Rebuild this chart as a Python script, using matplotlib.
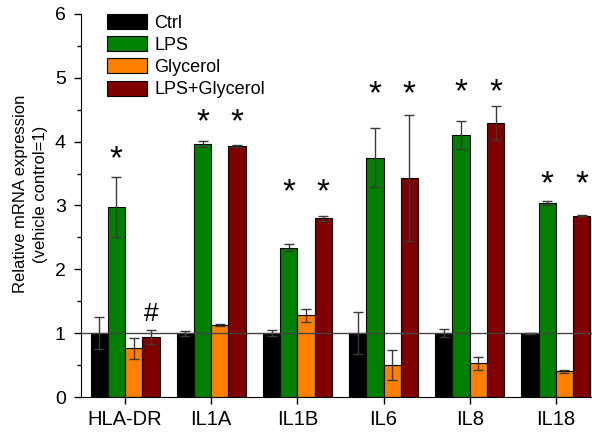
import numpy as np
import matplotlib
matplotlib.use('Agg')
import matplotlib.pyplot as plt
from matplotlib.ticker import MultipleLocator

plt.rcParams['font.family'] = ['Liberation Sans', 'DejaVu Sans']

genes = ['HLA-DR', 'IL1A', 'IL1B', 'IL6', 'IL8', 'IL18']
groups = ['Ctrl', 'LPS', 'Glycerol', 'LPS+Glycerol']
colors = ['#000000', '#008000', '#FF8000', '#800000']

ctrl = [1.0, 1.0, 1.0, 1.0, 1.0, 1.0]
ctrl_err = [0.25, 0.04, 0.05, 0.33, 0.06, 0.01]
lps = [2.98, 3.96, 2.34, 3.75, 4.11, 3.04]
lps_err = [0.47, 0.05, 0.05, 0.46, 0.22, 0.03]
gly = [0.76, 1.13, 1.28, 0.50, 0.53, 0.40]
gly_err = [0.16, 0.01, 0.10, 0.23, 0.10, 0.02]
lpsgly = [0.94, 3.93, 2.80, 3.43, 4.29, 2.84]
lpsgly_err = [0.11, 0.02, 0.04, 0.99, 0.27, 0.01]

# significance marks: asterisk heights for LPS and LPS+Glycerol bars
star_lps = [3.72, 4.30, 3.20, 4.74, 4.77, 3.33]
star_lpsgly = [None, 4.30, 3.20, 4.74, 4.77, 3.33]
hash_y = 1.30

values = [ctrl, lps, gly, lpsgly]
errors = [ctrl_err, lps_err, gly_err, lpsgly_err]

fig = plt.figure(figsize=(5.92, 4.37), dpi=100)
ax = fig.add_axes([0.137, 0.0915, 0.863, 0.8765])

x = np.arange(len(genes))
w = 0.2
for i in range(4):
    pos = x + (i - 1.5) * w
    ax.bar(pos, values[i], w, color=colors[i], edgecolor='black', linewidth=0.8,
           label=groups[i], zorder=2)
    ax.errorbar(pos, values[i], yerr=errors[i], fmt='none', ecolor='#3a3a3a',
                elinewidth=1, capsize=3.5, capthick=1, zorder=3)

ax.axhline(1, color='#444444', linewidth=1, zorder=4)

for j in range(len(genes)):
    if star_lps[j] is not None:
        ax.text(x[j] - 0.5 * w, star_lps[j], '*', ha='center', va='center', fontsize=24)
    if star_lpsgly[j] is not None:
        ax.text(x[j] + 1.5 * w, star_lpsgly[j], '*', ha='center', va='center', fontsize=24)
ax.text(x[0] + 1.5 * w, hash_y, '#', ha='center', va='center', fontsize=19)

ax.set_xlim(-0.51, 5.42)
ax.set_ylim(0, 6)
ax.set_xticks(x)
ax.set_xticklabels(genes, fontsize=14.5)
ax.yaxis.set_major_locator(MultipleLocator(1))
ax.yaxis.set_minor_locator(MultipleLocator(0.5))
ax.tick_params(axis='y', which='major', labelsize=14, length=5, width=1, pad=6)
ax.tick_params(axis='y', which='minor', length=3, width=1)
ax.tick_params(axis='x', length=5, width=1, pad=4)
ax.spines['top'].set_visible(False)
ax.spines['right'].set_visible(False)
fig.text(30.5 / 592, 1 - 194 / 437, 'Relative mRNA expression\n(vehicle control=1)',
         rotation=90, ha='center', va='center', fontsize=12, linespacing=1.45)

ax.legend(loc='upper left', bbox_to_anchor=(0.051, 1.0), frameon=False, fontsize=13,
          handlelength=2.2, handleheight=0.9, labelspacing=0.25, handletextpad=0.4,
          borderpad=0, borderaxespad=0)

fig.savefig('out.png', dpi=100)
